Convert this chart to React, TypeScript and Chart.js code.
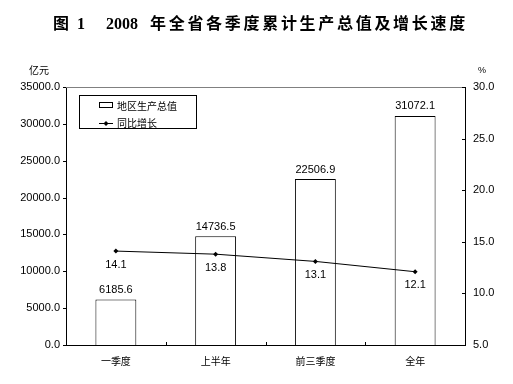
import React, { useEffect, useRef } from "react";
import { Chart, registerables } from "chart.js";

Chart.register(...registerables);

const categories = ["一季度", "上半年", "前三季度", "全年"];
const gdpValues = [6185.6, 14736.5, 22506.9, 31072.1];
const growthValues = [14.1, 13.8, 13.1, 12.1];
const leftTicks = [0, 5000, 10000, 15000, 20000, 25000, 30000, 35000];
const rightTicks = [5, 10, 15, 20, 25, 30];
const titlePrefix = "图 1";
const titleYear = "2008";
const titleMain = "年全省各季度累计生产总值及增长速度";
const gdpLabel = "地区生产总值";
const growthLabel = "同比增长";
const leftUnit = "亿元";
const rightUnit = "%";

const NUM_FONT = "11px 'Liberation Sans', Arial, sans-serif";
const CJK_FONT = "10px 'Noto Sans CJK SC', sans-serif";

const decorPlugin = {
  id: "decor",
  afterDatasetsDraw(chart: any) {
    const ctx = chart.ctx;
    const ca = chart.chartArea;
    const x = chart.scales.x;
    const y = chart.scales.y;
    const y1 = chart.scales.y1;
    ctx.save();
    // top border gray
    ctx.strokeStyle = "#808080";
    ctx.lineWidth = 1;
    ctx.beginPath();
    ctx.moveTo(ca.left, Math.round(ca.top) + 0.5);
    ctx.lineTo(ca.right, Math.round(ca.top) + 0.5);
    ctx.stroke();
    ctx.strokeStyle = "#000";
    // left ticks outward
    ctx.beginPath();
    leftTicks.forEach((v) => {
      const py = Math.round(y.getPixelForValue(v)) + 0.5;
      ctx.moveTo(ca.left - 3, py);
      ctx.lineTo(ca.left, py);
    });
    // right ticks inward
    rightTicks.forEach((v) => {
      const py = Math.round(y1.getPixelForValue(v)) + 0.5;
      ctx.moveTo(ca.right - 3, py);
      ctx.lineTo(ca.right, py);
    });
    // x ticks at category boundaries, upward
    for (let i = 1; i < categories.length; i++) {
      const px = Math.round((x.getPixelForValue(i - 1) + x.getPixelForValue(i)) / 2) + 0.5;
      ctx.moveTo(px, ca.bottom);
      ctx.lineTo(px, ca.bottom - 3);
    }
    ctx.stroke();

    // bar labels
    ctx.fillStyle = "#000";
    ctx.font = NUM_FONT;
    ctx.textAlign = "center";
    ctx.textBaseline = "bottom";
    const barMeta = chart.getDatasetMeta(0);
    barMeta.data.forEach((bar: any, i: number) => {
      ctx.fillText(gdpValues[i].toFixed(1), bar.x, bar.y - 4);
    });
    // line labels
    ctx.textBaseline = "top";
    const lineMeta = chart.getDatasetMeta(1);
    lineMeta.data.forEach((pt: any, i: number) => {
      ctx.fillText(growthValues[i].toFixed(1), pt.x, pt.y + 8);
    });

    // units
    ctx.font = CJK_FONT;
    ctx.textAlign = "left";
    ctx.textBaseline = "middle";
    ctx.fillText(leftUnit, 29, 70);
    ctx.font = "9px 'Liberation Sans', Arial, sans-serif";
    ctx.fillText(rightUnit, 478, 71);

    // legend
    const lx = 79.5, ly = 95.5, lw = 117, lh = 33;
    ctx.fillStyle = "#fff";
    ctx.fillRect(lx, ly, lw, lh);
    ctx.strokeStyle = "#000";
    ctx.strokeRect(lx, ly, lw, lh);
    ctx.strokeRect(99.5, 102.5, 13, 5);
    ctx.beginPath();
    ctx.moveTo(99, 123.5);
    ctx.lineTo(113, 123.5);
    ctx.stroke();
    ctx.fillStyle = "#000";
    ctx.beginPath();
    ctx.moveTo(106, 121);
    ctx.lineTo(108.5, 123.5);
    ctx.lineTo(106, 126);
    ctx.lineTo(103.5, 123.5);
    ctx.closePath();
    ctx.fill();
    ctx.font = CJK_FONT;
    ctx.textAlign = "left";
    ctx.textBaseline = "middle";
    ctx.fillText(gdpLabel, 117, 106);
    ctx.fillText(growthLabel, 117, 123);

    // title
    ctx.font = "bold 16px 'Liberation Serif', 'Noto Sans CJK SC', serif";
    ctx.textBaseline = "middle";
    ctx.fillText(titlePrefix.charAt(0), 53, 25);
    ctx.fillText(titlePrefix.slice(2), 77, 25);
    ctx.fillText(titleYear, 106, 25);
    (ctx as any).letterSpacing = "2.7px";
    ctx.fillText(titleMain, 150, 25);
    (ctx as any).letterSpacing = "0px";
    ctx.restore();
  },
};

export default function App() {
  const ref = useRef<HTMLCanvasElement>(null);
  useEffect(() => {
    const prevMargin = document.body.style.margin;
    document.body.style.margin = "0";
    const chart = new Chart(ref.current as HTMLCanvasElement, {
      type: "bar",
      data: {
        labels: categories,
        datasets: [
          {
            type: "bar",
            label: gdpLabel,
            data: gdpValues,
            backgroundColor: "#ffffff",
            borderColor: "#000000",
            borderWidth: 1,
            barPercentage: 0.41,
            categoryPercentage: 1,
            yAxisID: "y",
            order: 2,
          },
          {
            type: "line",
            label: growthLabel,
            data: growthValues,
            borderColor: "#000000",
            borderWidth: 1,
            backgroundColor: "#000000",
            pointStyle: "rectRot",
            pointRadius: 2.5,
            pointBorderWidth: 0,
            yAxisID: "y1",
            order: 1,
          },
        ] as any,
      },
      options: {
        animation: false,
        responsive: false,
        maintainAspectRatio: false,
        layout: { padding: { top: 87, bottom: 0, left: 0, right: 0 } },
        plugins: {
          legend: { display: false },
          title: { display: false },
          tooltip: { enabled: false },
        },
        scales: {
          x: {
            grid: { display: false, drawTicks: false },
            border: { color: "#000", width: 1 },
            ticks: {
              color: "#000",
              font: { family: "'Noto Sans CJK SC', sans-serif", size: 10 },
              padding: 10,
            },
            afterFit: (s: any) => {
              s.height = 39;
            },
          },
          y: {
            position: "left",
            min: 0,
            max: 35000,
            grid: { display: false, drawTicks: false },
            border: { color: "#000", width: 1 },
            ticks: {
              stepSize: 5000,
              color: "#000",
              font: { family: "'Liberation Sans', Arial, sans-serif", size: 11 },
              padding: 6,
              callback: (v: any) => Number(v).toFixed(1),
            },
            afterFit: (s: any) => {
              s.width = 66;
            },
          },
          y1: {
            position: "right",
            min: 5,
            max: 30,
            grid: { display: false, drawTicks: false },
            border: { color: "#000", width: 1 },
            ticks: {
              stepSize: 5,
              color: "#000",
              font: { family: "'Liberation Sans', Arial, sans-serif", size: 11 },
              padding: 8,
              callback: (v: any) => Number(v).toFixed(1),
            },
            afterFit: (s: any) => {
              s.width = 48;
            },
          },
        },
      } as any,
      plugins: [decorPlugin],
    });
    return () => {
      chart.destroy();
      document.body.style.margin = prevMargin;
    };
  }, []);
  return (
    <div style={{ position: "absolute", left: 0, top: 0, width: 513, height: 384, background: "#fff" }}>
      <canvas ref={ref} width={513} height={384} style={{ width: 513, height: 384 }} />
    </div>
  );
}
